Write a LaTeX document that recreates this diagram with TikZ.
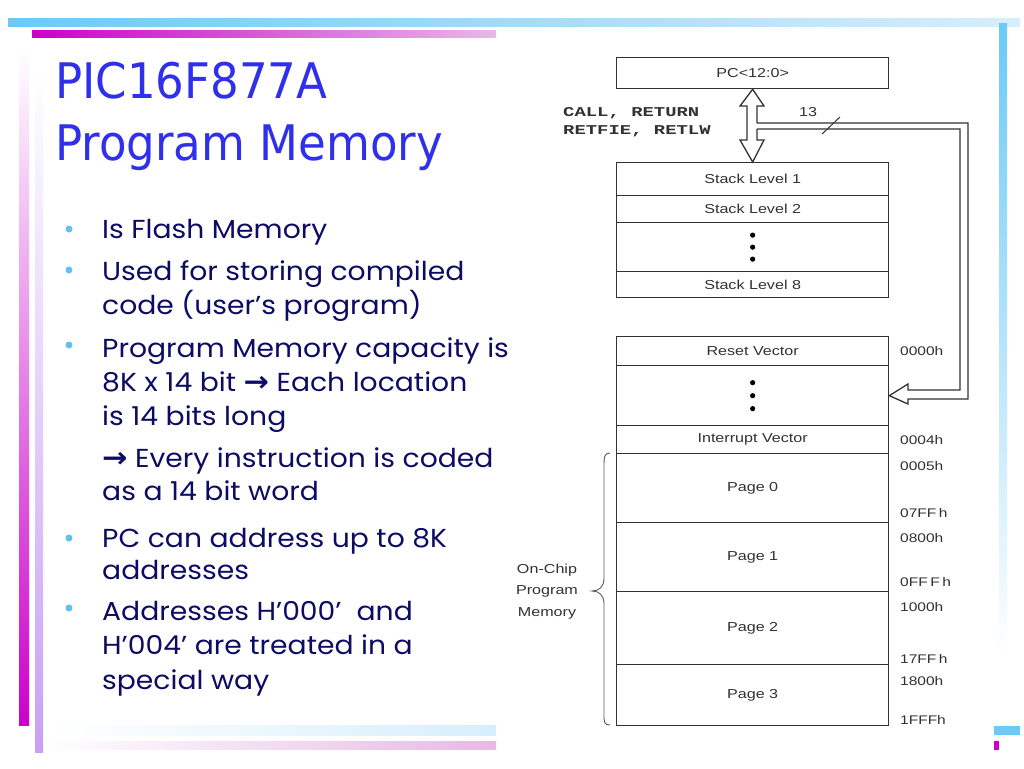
\documentclass[tikz,border=0pt]{standalone}
\usepackage{graphicx}
\usepackage{fontspec}
\setmainfont{Liberation Sans}
\newfontfamily\ttlfont{DejaVu Sans}
\newfontfamily\bodyfont{Poppins}
\newfontfamily\cmono{Liberation Mono}
\newfontfamily\arrfont{DejaVu Sans}
\definecolor{titleblue}{RGB}{48,48,235}
\definecolor{navy}{RGB}{12,12,100}
\definecolor{bulletc}{RGB}{100,190,240}
\definecolor{barblue}{RGB}{108,202,247}
\definecolor{barblue2}{RGB}{215,238,252}
\definecolor{barmag}{RGB}{204,0,204}
\definecolor{barmag2}{RGB}{230,185,230}
\definecolor{lav}{RGB}{200,160,245}
\definecolor{diag}{RGB}{50,50,50}
\newcommand\dgt[1]{\scalebox{1.24}[1]{#1}}
\newcommand\bt[1]{\scalebox{1.085}[1]{#1}}
\newcommand\rarr{{\arrfont\bfseries\fontsize{28}{30}\selectfont →}}
\begin{document}
\begin{tikzpicture}[x=1pt,y=-1pt,
  body/.style={anchor=base west, inner sep=0, text=navy, font=\bodyfont\fontsize{26}{30}\selectfont},
  ttl/.style={anchor=base west, inner sep=0, text=titleblue, font=\ttlfont\fontsize{49}{56}\selectfont},
  bul/.style={circle, fill=bulletc, inner sep=0, minimum size=7pt},
  cell/.style={draw=diag, line width=1.3pt, minimum width=272pt, anchor=north west, inner sep=0, font=\fontsize{13}{15}\selectfont, text=diag},
  addr/.style={anchor=west, inner sep=0, font=\fontsize{12.5}{15}\selectfont, text=diag},
  lbl/.style={inner sep=0, font=\fontsize{13}{15}\selectfont, text=diag},
  mono/.style={anchor=base west, inner sep=0, font=\cmono\bfseries\fontsize{13.5}{15}\selectfont, text=diag},
  wire/.style={draw=diag, line width=1.3pt, fill=white, line join=miter},
]
\useasboundingbox (0,0) rectangle (1024,768);
\fill[white] (0,0) rectangle (1024,768);

% decorative bars
\shade[left color=barblue, right color=barblue2] (8,19) rectangle (1020,27);
\shade[left color=barmag, right color=barmag2] (32,31) rectangle (496,38);
\shade[top color=white, bottom color=barmag] (19,50) rectangle (29,725);
\shade[top color=white, bottom color=lav] (35,70) rectangle (43,752);
\shade[top color=barblue, bottom color=white] (999,24) rectangle (1007,660);
\shade[left color=white, right color=barblue2] (45,725) rectangle (496,735);
\shade[left color=white, right color=barmag2] (45,741) rectangle (496,749);
\fill[barblue] (994,726) rectangle (1020,735);
\fill[barmag] (994,741) rectangle (999,750);

% title
\node[ttl] (t1) at (55,98) {\scalebox{0.92}[1]{PIC16F877A}};
\node[ttl] (t2) at (55,160) {\scalebox{0.92}[1]{Program Memory}};

% bullets
\node[bul] (d1) at (69,229) {};
\node[bul] (d2) at (69,270) {};
\node[bul] (d3) at (69,345) {};
\node[bul] (d4) at (69,538) {};
\node[bul] (d5) at (69,608) {};

\node[body] (l1) at (102,238) {\bt{Is Flash Memory}};
\node[body] (l2) at (102,280) {\bt{Used for storing compiled}};
\node[body] (l3) at (102,314) {\bt{code (user’s program)}};
\node[body] (l4) at (102,357) {\bt{Program Memory capacity is}};
\node[body] (l5) at (102,391) {\bt{8K x 14 bit \rarr\ Each location}};
\node[body] (l6) at (102,425) {\bt{is 14 bits long}};
\node[body] (l7) at (102,467) {\bt{\rarr\ Every instruction is coded}};
\node[body] (l8) at (102,500) {\bt{as a 14 bit word}};
\node[body] (l9) at (102,547) {\bt{PC can address up to 8K}};
\node[body] (l10) at (102,579) {\bt{addresses}};
\node[body] (l11) at (102,620) {\bt{Addresses H’000’\ \ and}};
\node[body] (l12) at (102,654) {\bt{H’004’ are treated in a}};
\node[body] (l13) at (102,689) {\bt{special way}};

% diagram
\node[cell, minimum height=31pt] (pc) at (616,57) {\dgt{PC<12:0>}};

\node[cell, minimum height=33pt] (s1) at (616,162) {\dgt{Stack Level 1}};
\node[cell, minimum height=27pt] (s2) at (616,195) {\dgt{Stack Level 2}};
\node[cell, minimum height=49pt] (sd) at (616,222) {};
\node[cell, minimum height=26pt] (s8) at (616,271) {\dgt{Stack Level 8}};
\fill[black] (sd.center) ++(0,-12) circle (2.6) (sd.center) circle (2.6) (sd.center) ++(0,12) circle (2.6);

\node[cell, minimum height=29pt] (rv) at (616,336) {\dgt{Reset Vector}};
\node[cell, minimum height=60pt] (md) at (616,365) {};
\node[cell, minimum height=28pt] (iv) at (616,425) {\dgt{Interrupt Vector}};
\node[cell, minimum height=69pt] (p0) at (616,453) {\dgt{Page 0}};
\node[cell, minimum height=69pt] (p1) at (616,522) {\dgt{Page 1}};
\node[cell, minimum height=73pt] (p2) at (616,591) {\dgt{Page 2}};
\node[cell, minimum height=61pt] (p3) at (616,664) {\dgt{Page 3}};
\fill[black] (md.center) ++(0,-13) circle (2.6) (md.center) circle (2.6) (md.center) ++(0,13) circle (2.6);

% double arrow PC <-> stack
\coordinate (tt) at (pc.south);
\coordinate (bt) at (s1.north);
\draw[wire] (757,123) -- (757,106) -- (764,106) -- (tt) -- (740,106) -- (747,106)
  -- (747,140) -- (740,140) -- (bt) -- (764,140) -- (757,140) -- (757,129);

% return path to memory
\coordinate (rt) at (md.east);
\draw[wire, fill=none] (757,123) -- (968,123) -- (968,399) -- (908,399) -- (908,404)
  -- (rt) -- (908,384) -- (908,390) -- (960,390) -- (960,129) -- (757,129);
\draw[diag, line width=1pt] (822,134) -- (840,117);
\node[lbl] (n13) at (808,112) {\dgt{13}};

\node[mono] (c1) at (563,116) {\scalebox{1.4}[1]{CALL, RETURN}};
\node[mono] (c2) at (563,134) {\scalebox{1.4}[1]{RETFIE, RETLW}};

% addresses
\node[addr] (a0) at (900,351) {\dgt{0000h}};
\node[addr] (a4) at (900,440) {\dgt{0004h}};
\node[addr] (a5) at (900,466) {\dgt{0005h}};
\node[addr] (a7) at (900,513) {\dgt{07FF\,h}};
\node[addr] (a8) at (900,538) {\dgt{0800h}};
\node[addr] (af) at (900,582) {\dgt{0FF\,F\,h}};
\node[addr] (a10) at (900,607) {\dgt{1000h}};
\node[addr] (a17) at (900,659) {\dgt{17FF\,h}};
\node[addr] (a18) at (900,681) {\dgt{1800h}};
\node[addr] (a1f) at (900,720) {\dgt{1FFFh}};

% brace
\draw[diag!80, line width=0.9pt] (610,453) .. controls (604,453) and (604,458) .. (604,466)
  -- (604,578) .. controls (604,587) and (599,591) .. (592,591)
  .. controls (599,591) and (604,595) .. (604,604) -- (604,714)
  .. controls (604,722) and (604,725) .. (610,725);
\node[lbl] (oc1) at (547,570) {\dgt{On-Chip}};
\node[lbl] (oc2) at (547,591) {\dgt{Program}};
\node[lbl] (oc3) at (547,613) {\dgt{Memory}};
\end{tikzpicture}
\end{document}
